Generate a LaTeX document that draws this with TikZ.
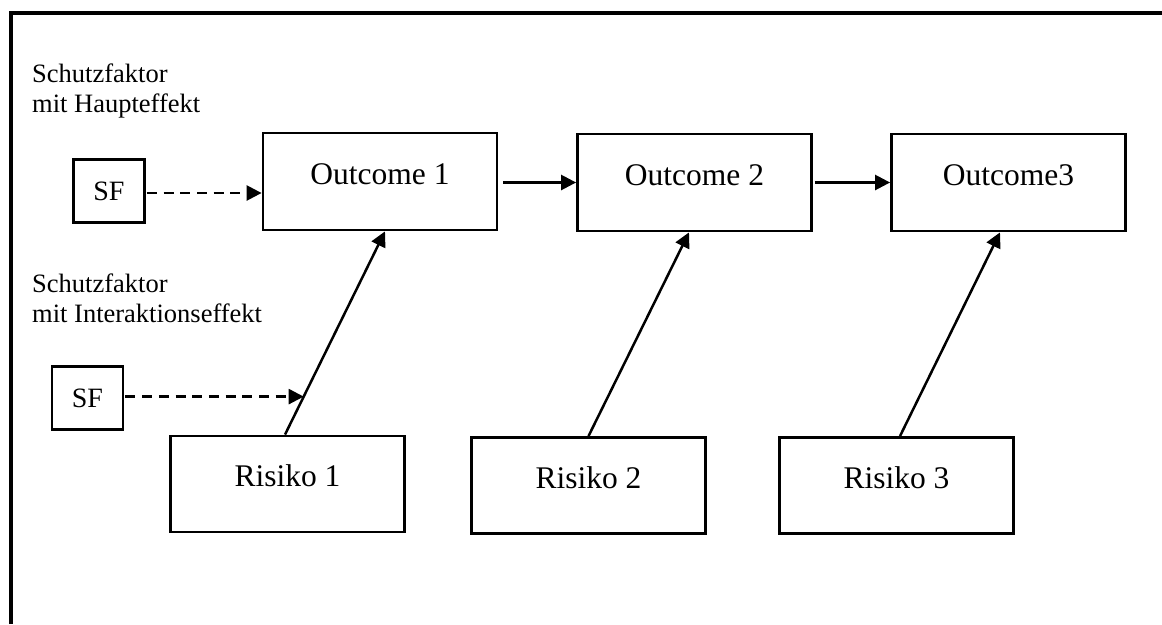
\documentclass[tikz,border=0pt]{standalone}
\usepackage{fontspec}
\setmainfont{Liberation Serif}
\usetikzlibrary{arrows.meta,calc}

\tikzset{
  box/.style={draw, line width=2.8pt, inner sep=0pt, font=\fontsize{31.5}{36}\selectfont,
              text height=20pt, text depth=15pt},
  outbox/.style={box, minimum width=234pt, minimum height=97pt},
  riskbox/.style={box, minimum width=234pt, minimum height=96pt},
  sfbox/.style={draw, line width=2.8pt, inner sep=0pt, minimum width=71pt, minimum height=63pt,
                font=\fontsize{28}{32}\selectfont},
  lbl/.style={inner sep=0pt, align=left, font=\fontsize{26.5}{30}\selectfont},
  arr/.style={line width=2.5pt, -{Triangle[length=15pt,width=15pt]}},
  dsh/.style={arr, dash pattern=on 10pt off 6.7pt}
}

\begin{document}
\begin{tikzpicture}[x=1pt,y=-1pt]
  \useasboundingbox (0,0) rectangle (1162,624);
  % frame (left and top rules)
  \draw[line width=3.2pt] (11,624) -- (11,13) -- (1162,13);

  % outcomes
  \node[outbox] (o1) at (380,181.5) {Outcome 1};
  \node[outbox] (o2) at (694.5,182.5) {Outcome 2};
  \node[outbox] (o3) at (1008.5,182.5) {Outcome3};

  % risks
  \node[riskbox] (r1) at (287.5,484) {Risiko 1};
  \node[riskbox] (r2) at (588.5,485.5) {Risiko 2};
  \node[riskbox] (r3) at (896.5,485.5) {Risiko 3};

  % protective factors
  \node[sfbox] (sf1) at (109,191) {SF};
  \node[sfbox] (sf2) at (87.5,398) {SF};

  \node[lbl, anchor=base west] (l1) at (32,112) {Schutzfaktor\\mit Haupteffekt};
  \node[lbl, anchor=base west] (l2) at (32,322) {Schutzfaktor\\mit Interaktionseffekt};

  % chain of outcomes
  \draw[arr] ([xshift=5pt]o1.east |- o2.west) -- (o2.west);
  \draw[arr] ([xshift=2pt]o2.east) -- (o3.west);

  % risk effects
  \coordinate (t1) at ($(o1.south)+(5,0)$);
  \coordinate (t2) at ($(o2.south)+(-5.5,0)$);
  \coordinate (t3) at ($(o3.south)+(-8.5,0)$);
  \draw[arr] ($(r1.north)+(-2.5,0)$) -- (t1);
  \draw[arr] (r2.north) -- (t2);
  \draw[arr] ($(r3.north)+(3.5,0)$) -- (t3);

  % protective factor effects
  \coordinate (hit) at ($($(r1.north)+(-2.5,0)$)!0.187!(t1)$);
  \draw[dsh] ([xshift=1pt,yshift=-2pt]sf1.east) -- ([yshift=-2pt]sf1.east -| o1.west);
  \draw[dsh] ([xshift=1pt]sf2.east |- hit) -- (hit);
\end{tikzpicture}
\end{document}
